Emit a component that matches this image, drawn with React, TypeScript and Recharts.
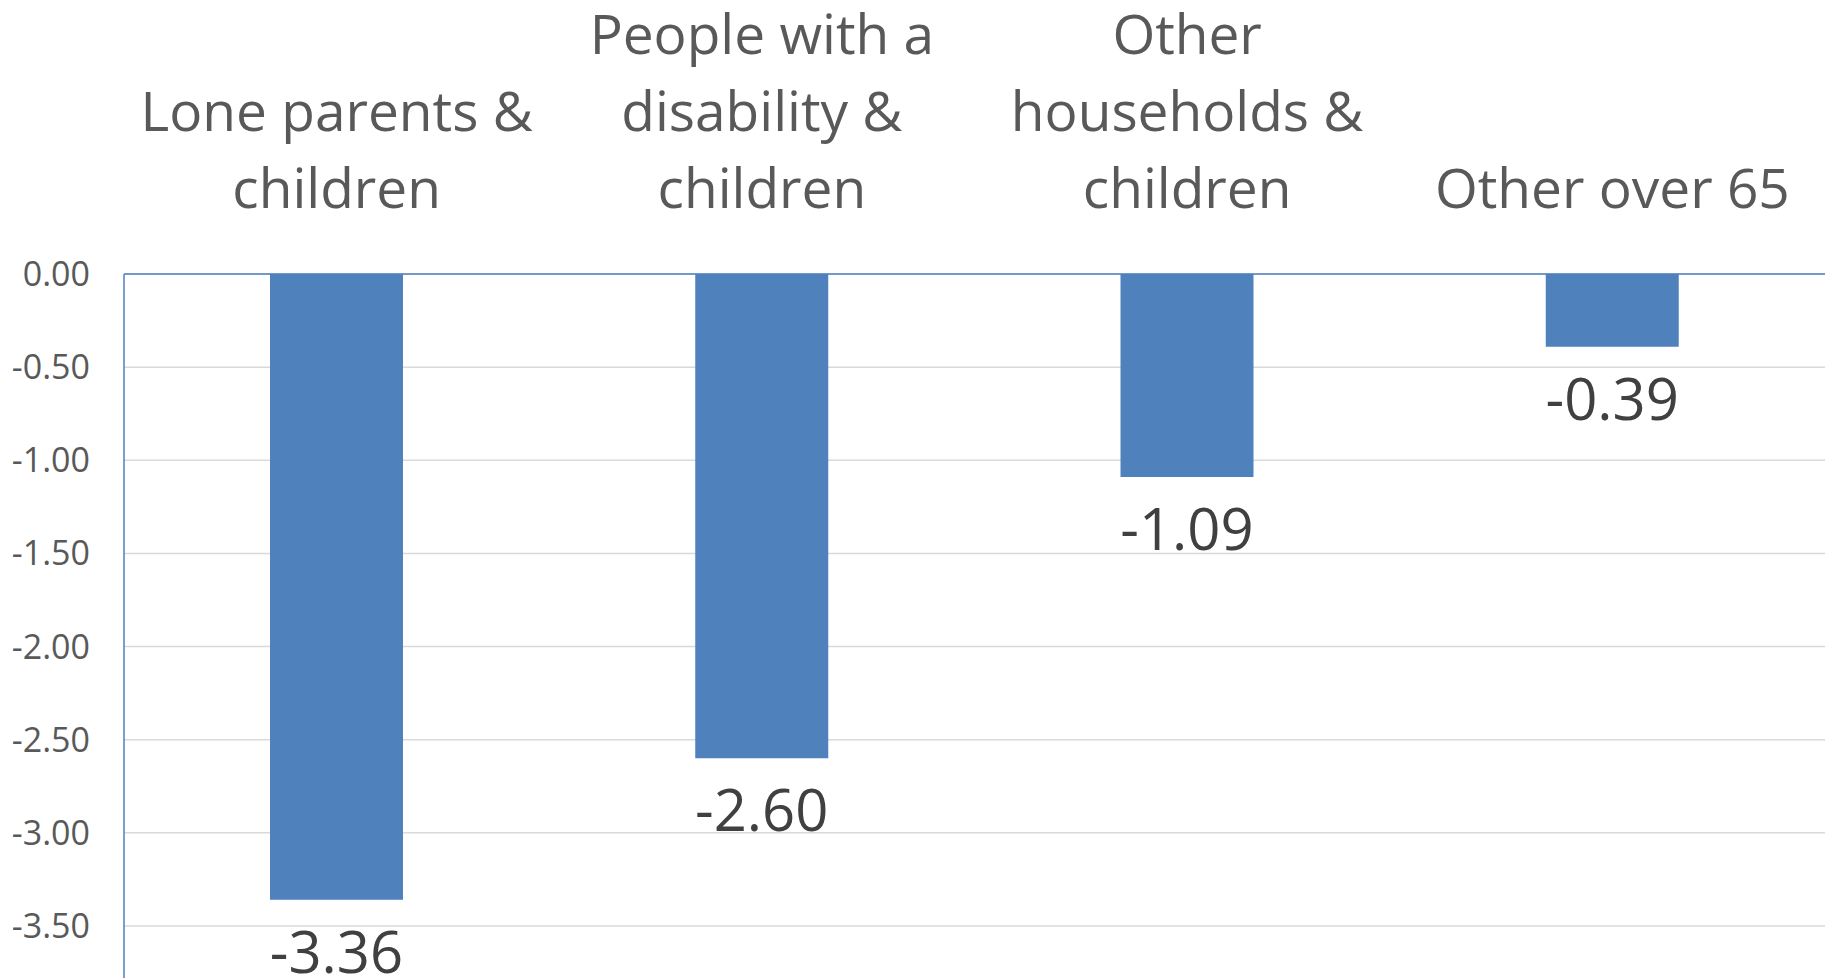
import React from "react";
import { BarChart, Bar, XAxis, YAxis, CartesianGrid, LabelList } from "recharts";

const categories = [
  "Lone parents &\nchildren",
  "People with a\ndisability &\nchildren",
  "Other\nhouseholds &\nchildren",
  "Other over 65",
];
const changeValues = [-3.36, -2.6, -1.09, -0.39];
const yTicks = [-4, -3.5, -3, -2.5, -2, -1.5, -1, -0.5, 0];

const data = categories.map((name, i) => ({ name, value: changeValues[i] }));

const FONT = "'Open Sans', 'Noto Sans', sans-serif";
const BLUE = "#4f81bd";

// category names sit above the zero line, bottom-aligned, one tspan per line
const CategoryTick = (props: any) => {
  const { x, y, payload } = props;
  const lines = String(payload.value).split("\n");
  const lineGap = 77;
  const lastBaseline = y - 64;
  return (
    <text x={x} y={lastBaseline} textAnchor="middle" fill="#595959" fontFamily={FONT} fontSize={55}>
      {lines.map((line, i) => (
        <tspan key={i} x={x} y={lastBaseline - (lines.length - 1 - i) * lineGap}>
          {line}
        </tspan>
      ))}
    </text>
  );
};

// value printed below the end of each (negative) bar
const ValueLabel = (props: any) => {
  const { x, y, width, height, value } = props;
  const barEnd = Math.max(y, y + height);
  return (
    <text x={x + width / 2} y={barEnd + 73} textAnchor="middle" fill="#404040" fontFamily={FONT} fontSize={58}>
      {Number(value).toFixed(2)}
    </text>
  );
};

export default function App() {
  return (
    <div style={{ position: "absolute", top: 0, left: 0, width: 1827, height: 978, overflow: "hidden", background: "#fff" }}>
      <BarChart width={1827} height={1030} data={data} margin={{ top: 0, right: 2, bottom: 11, left: 0 }}>
        <CartesianGrid vertical={false} stroke="#d9d9d9" strokeWidth={1.5} />
        <XAxis
          dataKey="name"
          orientation="top"
          height={274}
          axisLine={{ stroke: BLUE, strokeWidth: 1.5 }}
          tickLine={false}
          tickSize={0}
          interval={0}
          tick={<CategoryTick />}
        />
        <YAxis
          domain={[-4, 0]}
          ticks={yTicks}
          width={124}
          axisLine={{ stroke: BLUE, strokeWidth: 1.5 }}
          tickLine={false}
          tickSize={0}
          tickMargin={34}
          tickFormatter={(v: number) => v.toFixed(2)}
          tick={{ fill: "#595959", fontFamily: FONT, fontSize: 34 }}
          allowDataOverflow
        />
        <Bar dataKey="value" fill={BLUE} barSize={133} isAnimationActive={false}>
          <LabelList dataKey="value" content={<ValueLabel />} />
        </Bar>
      </BarChart>
    </div>
  );
}
